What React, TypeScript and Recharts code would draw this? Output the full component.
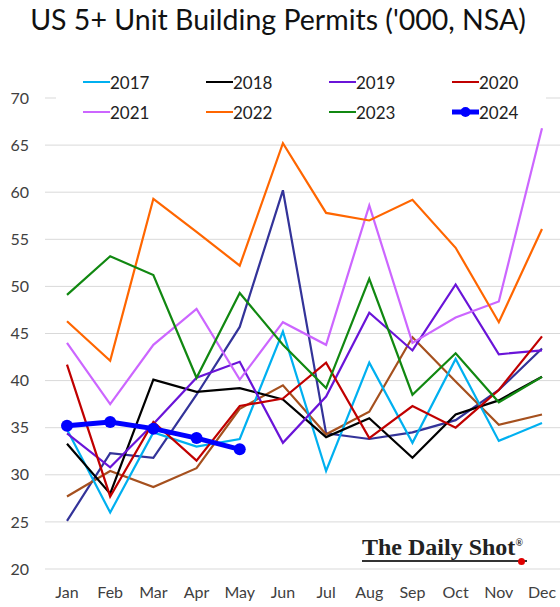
import React from 'react';
import { LineChart, Line, XAxis, YAxis, CartesianGrid } from 'recharts';

const months = ['Jan', 'Feb', 'Mar', 'Apr', 'May', 'Jun', 'Jul', 'Aug', 'Sep', 'Oct', 'Nov', 'Dec'];
const yTicks = [20, 25, 30, 35, 40, 45, 50, 55, 60, 65, 70];

// two older years drawn without a legend entry
const y2015 = [25.1, 32.3, 31.8, 38.5, 45.7, 60.2, 34.4, 33.8, 34.5, 35.8, 39.0, 43.4];
const y2016 = [27.7, 30.4, 28.7, 30.7, 37.0, 39.5, 34.3, 36.7, 44.6, 39.9, 35.3, 36.4];
const y2017 = [34.8, 26.0, 34.5, 33.0, 33.8, 45.2, 30.4, 41.9, 33.4, 42.3, 33.6, 35.5];
const y2018 = [33.3, 28.0, 40.1, 38.8, 39.2, 38.0, 34.0, 36.0, 31.8, 36.4, 37.9, 40.4];
const y2019 = [34.4, 30.8, 35.4, 40.3, 42.0, 33.4, 38.3, 47.2, 43.2, 50.2, 42.8, 43.2];
const y2020 = [41.7, 27.7, 35.6, 31.5, 37.3, 38.1, 41.9, 33.9, 37.3, 35.0, 39.0, 44.7];
const y2021 = [44.0, 37.5, 43.8, 47.6, 40.1, 46.2, 43.8, 58.6, 44.0, 46.7, 48.4, 66.8];
const y2022 = [46.3, 42.1, 59.3, 55.8, 52.2, 65.2, 57.8, 57.0, 59.2, 54.1, 46.2, 56.1];
const y2023 = [49.1, 53.2, 51.2, 40.3, 49.3, 43.8, 39.2, 50.8, 38.5, 42.9, 37.7, 40.4];
const y2024 = [35.2, 35.6, 34.9, 33.9, 32.7];

const series = [
  { key: 'y2015', values: y2015, color: '#333399', legend: false },
  { key: 'y2016', values: y2016, color: '#a5501e', legend: false },
  { key: '2017', values: y2017, color: '#00b0f0', legend: true },
  { key: '2018', values: y2018, color: '#000000', legend: true },
  { key: '2019', values: y2019, color: '#6a14d8', legend: true },
  { key: '2020', values: y2020, color: '#c00000', legend: true },
  { key: '2021', values: y2021, color: '#cc66ff', legend: true },
  { key: '2022', values: y2022, color: '#ff6600', legend: true },
  { key: '2023', values: y2023, color: '#118811', legend: true },
  { key: '2024', values: y2024, color: '#0000ff', legend: true },
];

const chartData = months.map((m, i) => {
  const row: Record<string, string | number | undefined> = { month: m };
  series.forEach((s) => {
    row[s.key] = s.values[i];
  });
  return row;
});

const FONT = 'Lato, "Open Sans", sans-serif';

const LegendBox = () => {
  const items = series.filter((s) => s.legend);
  return (
    <div
      style={{
        position: 'absolute',
        left: 56,
        top: 62,
        width: 490,
        height: 62,
        background: '#fff',
        fontFamily: FONT,
        fontSize: 17,
        color: '#222',
      }}
    >
      {items.map((s, i) => {
        const col = i % 4;
        const row = Math.floor(i / 4);
        const is2024 = s.key === '2024';
        return (
          <div
            key={s.key}
            style={{
              position: 'absolute',
              left: 27 + col * 123,
              top: 10 + row * 30,
              display: 'flex',
              alignItems: 'center',
              height: 20,
            }}
          >
            <svg width={27} height={14}>
              <line x1={0} y1={7} x2={27} y2={7} stroke={s.color} strokeWidth={is2024 ? 5 : 2} />
              {is2024 && <circle cx={13.5} cy={7} r={5} fill={s.color} />}
            </svg>
            <span>{s.key}</span>
          </div>
        );
      })}
    </div>
  );
};

export default function App() {
  return (
    <div style={{ position: 'relative', width: 560, height: 607, background: '#fff', overflow: 'hidden' }}>
      <style>{`html,body{margin:0;padding:0;overflow:hidden;}`}</style>
      <div
        style={{
          position: 'absolute',
          left: 0,
          top: 2,
          width: 556,
          textAlign: 'center',
          fontFamily: FONT,
          fontSize: 28.5,
          color: '#111',
          whiteSpace: 'nowrap',
        }}
      >
        US 5+ Unit Building Permits ('000, NSA)
      </div>
      <LineChart
        width={560}
        height={607}
        data={chartData}
        margin={{ top: 98, right: 0, bottom: 8, left: 0 }}
      >
        <CartesianGrid vertical={false} stroke="#d9d9d9" />
        <XAxis
          dataKey="month"
          axisLine={false}
          tickLine={false}
          tickSize={0}
          tickMargin={18}
          height={30}
          interval={0}
          padding={{ left: 22, right: 18 }}
          tick={{ fill: '#404040', fontSize: 16, fontFamily: FONT }}
        />
        <YAxis
          domain={[20, 70]}
          ticks={yTicks}
          axisLine={false}
          tickLine={false}
          tickSize={0}
          tickMargin={16}
          width={45}
          interval={0}
          tick={{ fill: '#404040', fontSize: 16, fontFamily: FONT }}
        />
        {series.map((s) => {
          const is2024 = s.key === '2024';
          return (
            <Line
              key={s.key}
              type="linear"
              dataKey={s.key}
              stroke={s.color}
              strokeWidth={is2024 ? 5 : 2.2}
              dot={is2024 ? { r: 6, fill: s.color, stroke: s.color, strokeWidth: 0 } : false}
              activeDot={false}
              connectNulls={false}
              isAnimationActive={false}
            />
          );
        })}
      </LineChart>
      <LegendBox />
      <div
        style={{
          position: 'absolute',
          left: 362,
          top: 530,
          fontFamily: '"Liberation Serif", serif',
          fontWeight: 'bold',
          fontSize: 24,
          color: '#222',
          borderBottom: '2px solid #333',
          lineHeight: '26px',
          paddingRight: 4,
        }}
      >
        The Daily Shot<sup style={{ fontSize: 10 }}>®</sup>
        <span
          style={{
            position: 'absolute',
            right: 2,
            bottom: -5,
            width: 7,
            height: 7,
            borderRadius: 4,
            background: '#e00000',
          }}
        />
      </div>
    </div>
  );
}
